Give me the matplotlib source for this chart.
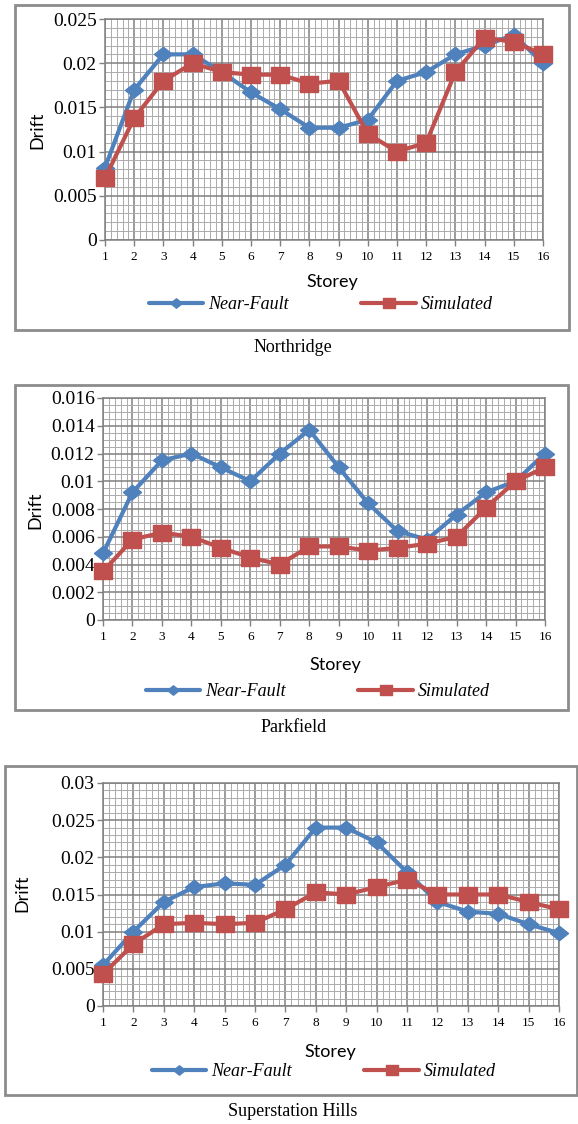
import matplotlib
matplotlib.use("Agg")
import matplotlib.pyplot as plt
from matplotlib.patches import Rectangle
from matplotlib.ticker import MultipleLocator, FuncFormatter

# ---------------------------------------------------------------- data
storeys = list(range(1, 17))

northridge_near = [0.0082, 0.0170, 0.0210, 0.0210, 0.0190, 0.0167, 0.0148, 0.0127,
                   0.0127, 0.0136, 0.0180, 0.0190, 0.0210, 0.0220, 0.0232, 0.0200]
northridge_sim = [0.0070, 0.0138, 0.0180, 0.0200, 0.0190, 0.0187, 0.0187, 0.0177,
                  0.0180, 0.0120, 0.0100, 0.0110, 0.0190, 0.0229, 0.0224, 0.0210]

parkfield_near = [0.0048, 0.0092, 0.0115, 0.0120, 0.0110, 0.0100, 0.0120, 0.0137,
                  0.0110, 0.0084, 0.0064, 0.0058, 0.0076, 0.0092, 0.0100, 0.0120]
parkfield_sim = [0.0035, 0.0058, 0.0063, 0.0060, 0.0052, 0.0045, 0.0040, 0.0053,
                 0.0053, 0.0050, 0.0052, 0.0055, 0.0060, 0.0081, 0.0100, 0.0110]

superstition_near = [0.0055, 0.0100, 0.0140, 0.0160, 0.0165, 0.0163, 0.0190, 0.0240,
                     0.0240, 0.0220, 0.0180, 0.0140, 0.0127, 0.0124, 0.0110, 0.0098]
superstition_sim = [0.0043, 0.0083, 0.0110, 0.0112, 0.0110, 0.0112, 0.0130, 0.0153,
                    0.0150, 0.0160, 0.0170, 0.0150, 0.0150, 0.0150, 0.0140, 0.0130]

series_names = ["Near-Fault", "Simulated"]
captions = ["Northridge", "Parkfield", "Superstation Hills"]

# ---------------------------------------------------------------- style
W, H = 578, 1124
BLUE = "#4F81BD"
RED = "#C0504D"
GRID_MAJOR = "#808080"
GRID_MINOR = "#ababab"
FRAME = "#8c8c8c"
SERIF = ["Liberation Serif", "DejaVu Serif"]
SANS = ["Lato", "DejaVu Sans"]

# wide diamond and wide square markers
DIAMOND = [(-1.25, 0), (0, 1), (1.25, 0), (0, -1), (-1.25, 0)]
SQUARE = [(-1.2, -1), (1.2, -1), (1.2, 1), (-1.2, 1), (-1.2, -1)]

fig = plt.figure(figsize=(W / 100, H / 100), dpi=100)


def fx(x):
    return x / W


def fy(y):
    return 1 - y / H


layout = [
    dict(near=northridge_near, sim=northridge_sim, ymax=0.025, major=0.005, minor=0.001,
         frame=(15, 5, 569, 330), plot=(105, 19, 543, 240), drift=(37, 130),
         storey=(332, 282), legend=(321, 305), caption=(293, 347)),
    dict(near=parkfield_near, sim=parkfield_sim, ymax=0.016, major=0.002, minor=0.0005,
         frame=(15, 385, 568, 710), plot=(103, 398, 545, 620), drift=(35, 510),
         storey=(335, 665), legend=(318, 692), caption=(294, 727)),
    dict(near=superstition_near, sim=superstition_sim, ymax=0.03, major=0.005, minor=0.001,
         frame=(5, 766, 577, 1095), plot=(103, 783, 559, 1006), drift=(22, 893),
         storey=(330, 1052), legend=(324, 1072), caption=(293, 1112)),
]

for cfg, caption in zip(layout, captions):
    # outer chart frame
    x0, y0, x1, y1 = cfg["frame"]
    fig.patches.append(Rectangle((fx(x0), fy(y1)), (x1 - x0) / W, (y1 - y0) / H,
                                 transform=fig.transFigure, fill=False,
                                 edgecolor=FRAME, linewidth=2.0, zorder=0))

    px0, py0, px1, py1 = cfg["plot"]
    ax = fig.add_axes([fx(px0), fy(py1), (px1 - px0) / W, (py1 - py0) / H])
    ax.set_xlim(1, 16)
    ax.set_ylim(0, cfg["ymax"])

    ax.xaxis.set_major_locator(MultipleLocator(1))
    ax.xaxis.set_minor_locator(MultipleLocator(0.2))
    ax.yaxis.set_major_locator(MultipleLocator(cfg["major"]))
    ax.yaxis.set_minor_locator(MultipleLocator(cfg["minor"]))
    ax.yaxis.set_major_formatter(FuncFormatter(lambda v, p: "%g" % round(v, 6)))

    ax.set_axisbelow(True)
    ax.grid(which="minor", color=GRID_MINOR, linewidth=0.7)
    ax.grid(which="major", color=GRID_MAJOR, linewidth=1.1)
    for side in ("top", "right", "left", "bottom"):
        ax.spines[side].set_color(GRID_MAJOR)
        ax.spines[side].set_linewidth(1.1)

    ax.tick_params(axis="y", which="major", direction="out", length=4, width=1,
                   color=GRID_MAJOR, pad=2, labelsize=14)
    ax.tick_params(axis="x", which="major", direction="out", length=4, width=1,
                   color=GRID_MAJOR, pad=4, labelsize=9.5)
    ax.tick_params(which="minor", length=0)
    for lab in ax.get_xticklabels() + ax.get_yticklabels():
        lab.set_family(SERIF)

    ax.plot(storeys, cfg["near"], color=BLUE, linewidth=3.0, marker=DIAMOND,
            markersize=13, markerfacecolor=BLUE, markeredgecolor=BLUE,
            solid_capstyle="round", label=series_names[0], clip_on=False, zorder=3)
    ax.plot(storeys, cfg["sim"], color=RED, linewidth=3.0, marker=SQUARE,
            markersize=13.5, markerfacecolor=RED, markeredgecolor=RED,
            solid_capstyle="round", label=series_names[1], clip_on=False, zorder=4)

    dx, dy = cfg["drift"]
    fig.text(fx(dx), fy(dy), "Drift", rotation=90, ha="center", va="center",
             family=SANS, fontsize=13)
    sx, sy = cfg["storey"]
    fig.text(fx(sx), fy(sy), "Storey", ha="center", va="center",
             family=SANS, fontsize=13)

    lx, ly = cfg["legend"]
    fig.legend(handles=ax.get_lines(), loc="center",
               bbox_to_anchor=(fx(lx), fy(ly)), bbox_transform=fig.transFigure,
               ncol=2, frameon=False, handlelength=3.0, handletextpad=0.3,
               columnspacing=4.0, markerscale=0.65,
               prop=dict(family=SERIF, style="italic", size=13))

    cx, cy = cfg["caption"]
    fig.text(fx(cx), fy(cy), caption, ha="center", va="center",
             family=SERIF, fontsize=13)

fig.savefig("out.png", dpi=100)
